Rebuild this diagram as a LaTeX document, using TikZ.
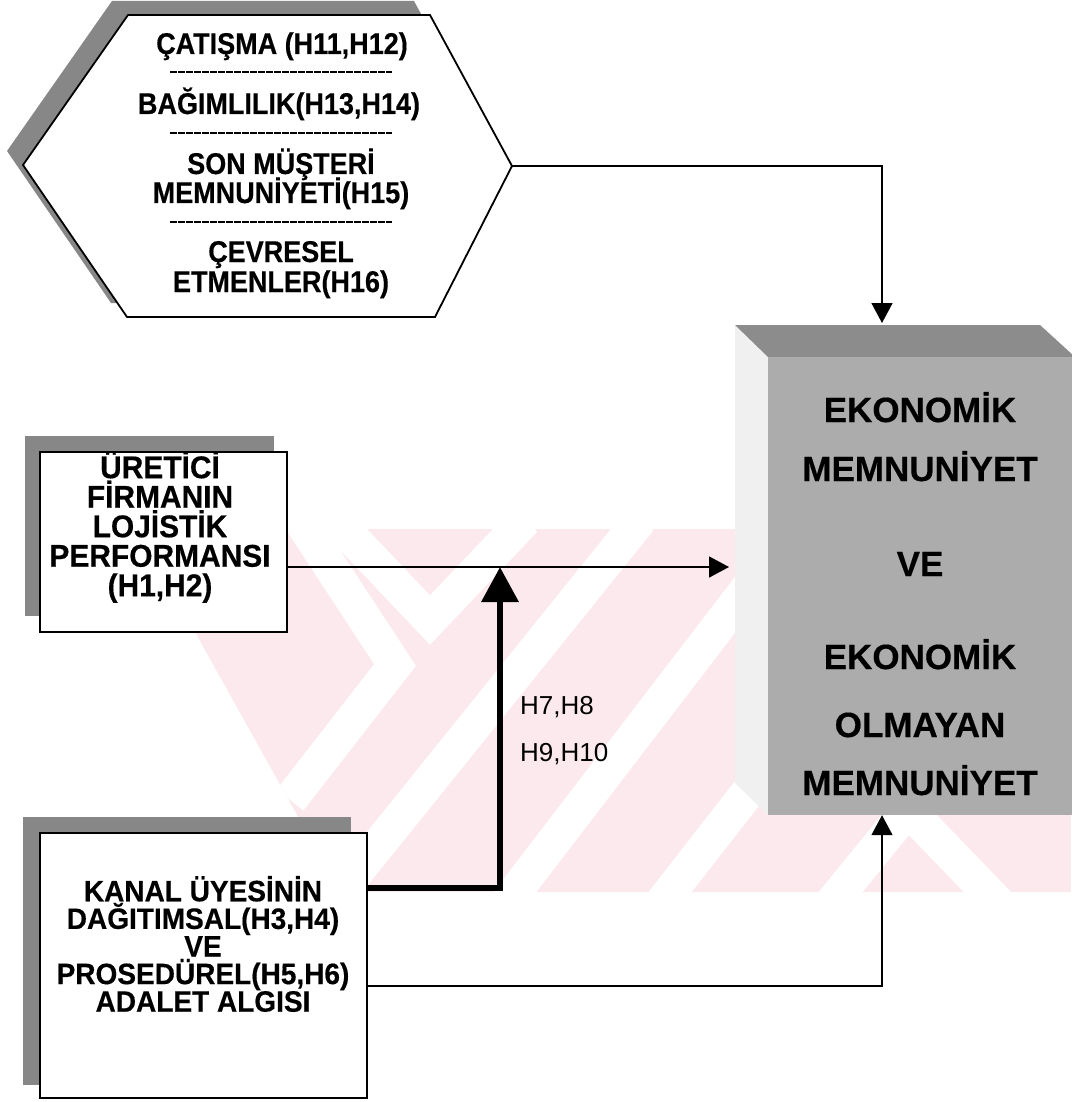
\documentclass[tikz,border=0pt]{standalone}
\usepackage{fontspec}
\setmainfont{Liberation Sans}
\newfontfamily\condfont[FakeStretch=0.9,FakeBold=0.4]{Liberation Sans}
\newfontfamily\semicondfont[FakeStretch=0.95,FakeBold=0.4]{Liberation Sans}
\newfontfamily\heavyfont[FakeBold=0.4]{Liberation Sans}
\usetikzlibrary{arrows.meta}
\definecolor{wm}{RGB}{252,233,237}
\definecolor{shadowgray}{RGB}{135,135,135}
\definecolor{facegray}{RGB}{172,172,172}
\definecolor{topgray}{RGB}{140,140,140}
\definecolor{sidegray}{RGB}{240,240,240}
\tikzset{
  shadowfill/.style={fill=shadowgray},
  bx/.style={draw=black, line width=1.6pt, fill=white, inner sep=0pt},
  hexline/.style={anchor=base, inner sep=0pt, font=\condfont\fontsize{30}{30}\selectfont\bfseries},
  b1text/.style={align=center, inner sep=0pt, font=\semicondfont\fontsize{31.5}{29.5}\selectfont\bfseries},
  b2text/.style={align=center, inner sep=0pt, font=\semicondfont\fontsize{29.5}{27.6}\selectfont\bfseries},
  ekoline/.style={anchor=base, inner sep=0pt, font=\heavyfont\fontsize{35}{35}\selectfont\bfseries},
  hlabel/.style={anchor=base west, inner sep=0pt, font=\fontsize{26}{26}\selectfont},
  sepline/.style={line width=2pt, dash pattern=on 7pt off 1pt, black},
  arr/.style={line width=1.7pt, -{Triangle[width=21pt,length=20pt]}},
  thickarr/.style={line width=6.5pt, line join=miter, -{Triangle[width=36pt,length=35pt]}},
  stripe/.style={white, line width=34pt}
}
\begin{document}
\begin{tikzpicture}[x=1pt,y=-1pt]
\useasboundingbox (0,0) rectangle (1071,1102);
\fill[white] (0,0) rectangle (1071,1102);

% watermark (background)
\begin{scope}
  \clip (265,529) -- (1071,529) -- (1071,892) -- (340,892) -- (195,632) -- (265,632) -- cycle;
  \fill[wm] (150,500) rectangle (1071,900);
  \draw[stripe] (300,520) -- (395,665) -- (290,800);
  \draw[stripe] (335,520) -- (430,620) -- (525,520);
  \draw[stripe] (330,905) -- (640,520);
  \draw[stripe] (505,905) -- (800,520);
  \draw[stripe] (660,905) -- (960,520);
  \draw[stripe] (860,760) -- (1000,905);
  \draw[stripe] (830,905) -- (1071,610);
\end{scope}

% hexagon
\fill[shadowfill] (7,151) -- (112,1) -- (414,1) -- (496,152) -- (419,303) -- (111,303) -- cycle;
\draw[line width=1.8pt, fill=white] (23,165) -- (128,15) -- (430,15) -- (512,166) -- (435,317) -- (127,317) -- cycle;
\coordinate (hexR) at (512,166);
\node[hexline] (h1) at (282,54) {ÇATIŞMA (H11,H12)};
\draw[sepline] (170,72) -- (392,72);
\node[hexline] (h2) at (279,114) {BAĞIMLILIK(H13,H14)};
\draw[sepline] (170,133) -- (392,133);
\node[hexline] (h3) at (281,174) {SON MÜŞTERİ};
\node[hexline] (h4) at (281,203) {MEMNUNİYETİ(H15)};
\draw[sepline] (170,222) -- (392,222);
\node[hexline] (h5) at (281,262) {ÇEVRESEL};
\node[hexline] (h6) at (281,292) {ETMENLER(H16)};

% box 1
\fill[shadowfill] (25,436) rectangle (274,616);
\node[bx, minimum width=247pt, minimum height=180pt] (b1) at (163.5,542) {};
\node[b1text] (t1) at (160,527) {ÜRETİCİ\\FİRMANIN\\LOJİSTİK\\PERFORMANSI\\(H1,H2)};

% box 2
\fill[shadowfill] (23,817) rectangle (351,1085);
\node[bx, minimum width=327pt, minimum height=265pt] (b2) at (203.5,965.5) {};
\node[b2text] (t2) at (203,944) {KANAL ÜYESİNİN\\DAĞITIMSAL(H3,H4)\\VE\\PROSEDÜREL(H5,H6)\\ADALET ALGISI};

% big 3D box
\fill[sidegray] (735,325) -- (768,357) -- (768,815) -- (735,783) -- cycle;
\fill[topgray] (735,325) -- (1040,325) -- (1075,357) -- (768,357) -- cycle;
\node[fill=facegray, draw=none, inner sep=0pt, minimum width=307pt, minimum height=458pt] (eko) at (921.5,586) {};
\node[ekoline] (e1) at (920,422) {EKONOMİK};
\node[ekoline] (e2) at (920,481) {MEMNUNİYET};
\node[ekoline] (e3) at (920,576) {VE};
\node[ekoline] (e4) at (920,669) {EKONOMİK};
\node[ekoline] (e5) at (920,737) {OLMAYAN};
\node[ekoline] (e6) at (920,795) {MEMNUNİYET};

% connectors
\coordinate (k1) at (882,166);
\coordinate (topin) at (882,323);
\draw[arr] (hexR) -- (k1) -- (topin);

\coordinate (J) at (500,567);
\coordinate (ekoin) at (729,567);
\draw[arr] (b1.east |- J) -- (ekoin);

\coordinate (K) at (500,888);
\draw[thickarr] (b2.east |- K) -- (K) -- (J);

\coordinate (L) at (882,986);
\draw[arr] (b2.east |- L) -- (L) -- (eko.south -| L);

\node[hlabel] (lab1) at (520,714) {H7,H8};
\node[hlabel] (lab2) at (520,761) {H9,H10};
\end{tikzpicture}
\end{document}
